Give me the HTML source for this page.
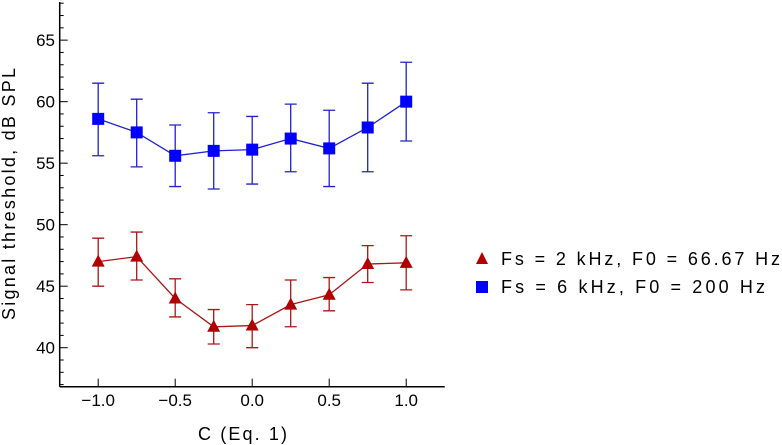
<!DOCTYPE html>
<html><head><meta charset="utf-8"><style>
html,body{margin:0;padding:0;background:#fff;}
svg{display:block;font-family:"Liberation Sans",sans-serif;}
</style></head><body>
<svg id="chart" width="782" height="445" viewBox="0 0 782 445" xmlns="http://www.w3.org/2000/svg">
<g id="axes"></g>
<g id="series"></g>
<g id="legend">
  <polygon points="476,264 488,264 482,252" fill="#b00000"/>
  <text x="501" y="265" font-size="18" textLength="279" lengthAdjust="spacing">Fs = 2 kHz, F0 = 66.67 Hz</text>
  <rect x="476" y="281" width="12" height="12" fill="#0000ff"/>
  <text x="501" y="293" font-size="18" textLength="264" lengthAdjust="spacing">Fs = 6 kHz, F0 = 200 Hz</text>
</g>
<text x="198" y="440" font-size="18" textLength="89" lengthAdjust="spacing">C (Eq. 1)</text>
<text transform="translate(15,320) rotate(-90)" font-size="18" textLength="252" lengthAdjust="spacing">Signal threshold, dB SPL</text>
</svg>
<script>
const categories = [-1.0, -0.75, -0.5, -0.25, 0.0, 0.25, 0.5, 0.75, 1.0];
const blueValues = [58.6, 57.5, 55.6, 56.0, 56.1, 57.0, 56.2, 57.9, 60.0];
const blueLow = [55.6, 54.7, 53.1, 52.9, 53.3, 54.3, 53.1, 54.3, 56.8];
const blueHigh = [61.5, 60.2, 58.1, 59.1, 58.8, 59.8, 59.3, 61.5, 63.2];
const redValues = [47.0, 47.4, 44.0, 41.7, 41.8, 43.5, 44.3, 46.8, 46.9];
const redLow = [45.0, 45.5, 42.5, 40.3, 40.0, 41.7, 43.0, 45.3, 44.7];
const redHigh = [48.9, 49.4, 45.6, 43.1, 43.5, 45.5, 45.7, 48.3, 49.1];
const xTicks = [-1.0, -0.5, 0.0, 0.5, 1.0];
const xTickLabels = ["\u22121.0", "\u22120.5", "0.0", "0.5", "1.0"];
const yTicks = [40, 45, 50, 55, 60, 65];

const NS = "http://www.w3.org/2000/svg";
const X0 = -1.25, X1 = 1.25, PX0 = 59.7, PX1 = 444.7;
const Y0 = 36.83, Y1 = 68.1, PY0 = 386.7, PY1 = 2;
function sx(v){ return PX0 + (v - X0) / (X1 - X0) * (PX1 - PX0); }
function sy(v){ return PY0 - (v - Y0) / (Y1 - Y0) * (PY0 - PY1); }
function mk(tag, attrs, parent){
  const e = document.createElementNS(NS, tag);
  for (const k in attrs) e.setAttribute(k, attrs[k]);
  parent.appendChild(e); return e;
}
const axes = document.getElementById('axes');
let e;
e = mk('line', {x1:PX0, y1:PY1, x2:PX0, y2:PY0, stroke:'#000', 'stroke-width':1.5}, axes);


e = mk('line', {x1:PX0, y1:PY0, x2:PX1, y2:PY0, stroke:'#000', 'stroke-width':1.5}, axes);


for (let v = 37; v <= 68; v++) {
  const major = v % 5 === 0;
  e = mk('line', {x1:PX0, y1:sy(v), x2:PX0 + (major ? 8 : 4), y2:sy(v), stroke:'#000', 'stroke-width':1}, axes);
  
  
}
yTicks.forEach(v => {
  e = mk('text', {x:55, y:sy(v) + 6, 'font-size':17, 'text-anchor':'end'}, axes);
  e.textContent = v;
  
  
});
xTicks.forEach((v, i) => {
  e = mk('line', {x1:sx(v), y1:PY0, x2:sx(v), y2:PY0 - 8, stroke:'#000', 'stroke-width':1}, axes);
  
  
  e = mk('text', {x:sx(v), y:406, 'font-size':17, 'text-anchor':'middle'}, axes);
  e.textContent = xTickLabels[i];
  
  
});

const series = document.getElementById('series');
function drawSeries(vals, lo, hi, color, lineColor, shape, name){
  const g = mk('g', {}, series);
  
  
  const pts = categories.map((c, i) => sx(c) + ',' + sy(vals[i])).join(' ');
  e = mk('polyline', {points:pts, fill:'none', stroke:lineColor, 'stroke-width':1.3}, g);
  
  
  categories.forEach((c, i) => {
    const x = sx(c);
    const eb = mk('path', {d:`M${x},${sy(lo[i])}V${sy(hi[i])}M${x-6},${sy(lo[i])}H${x+6}M${x-6},${sy(hi[i])}H${x+6}`, stroke:lineColor, 'stroke-width':1.3, fill:'none'}, g);
    
    
    const y = sy(vals[i]);
    let m;
    if (shape === 'square') m = mk('rect', {x:x-6, y:y-6, width:12, height:12, fill:color}, g);
    else m = mk('polygon', {points:`${x-6.5},${y+5} ${x+6.5},${y+5} ${x},${y-7}`, fill:color}, g);
    
    
  });
}
drawSeries(blueValues, blueLow, blueHigh, '#0000ff', '#2222cc', 'square', 'blue');
drawSeries(redValues, redLow, redHigh, '#b00000', '#a81818', 'triangle', 'red');
</script>
</body></html>
